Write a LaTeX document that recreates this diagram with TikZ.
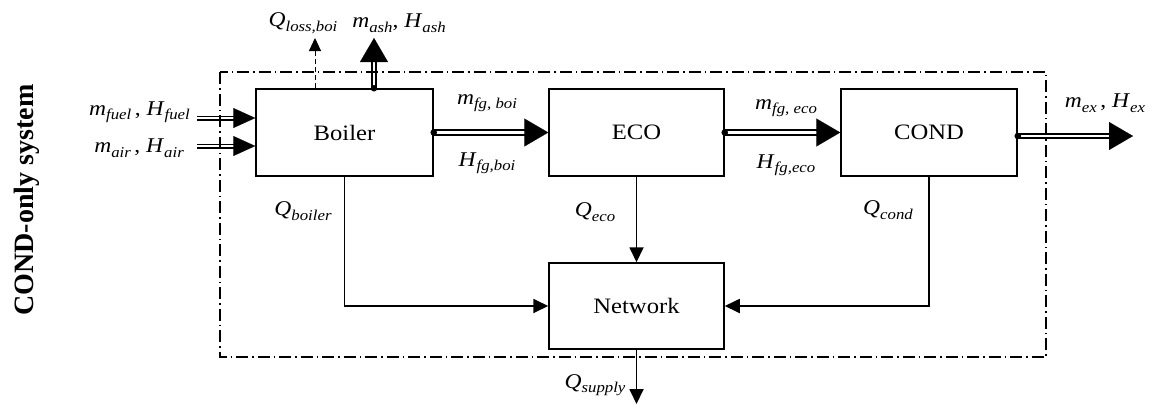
\documentclass[tikz,border=0pt]{standalone}
\usepackage{fontspec}
\setmainfont{Liberation Serif}[FakeStretch=1.12]
\newfontfamily\titlefont{Liberation Serif}
\usetikzlibrary{arrows.meta}

% variable with an italic subscript
\newcommand{\vr}[2]{\textit{#1}\raisebox{-4.5pt}{\fontsize{15}{15}\selectfont\itshape #2}}

\tikzset{
  unit/.style={draw, line width=1.5pt, inner sep=0pt, minimum height=87pt,
               font=\fontsize{22}{26}\selectfont},
  lab/.style={inner sep=0pt, font=\fontsize{21}{25}\selectfont},
  pipe/.style={line width=2.2pt, double=white, double distance=2.4pt},
  thinpipe/.style={line width=1.6pt, double=white, double distance=1.8pt},
  bighead/.style={white, line width=0.1pt, -{Triangle[length=24pt,width=28pt,color=black]}},
  smallhead/.style={white, line width=0.1pt, -{Triangle[length=22pt,width=20pt,color=black]}},
  heat/.style={line width=1.8pt, -{Triangle[length=15pt,width=14pt]}},
  boundary/.style={line width=1.1pt, dash pattern=on 12pt off 4pt on 1.5pt off 4pt},
}

\begin{document}
\begin{tikzpicture}[x=1pt, y=-1pt]
\useasboundingbox (0,0) rectangle (1155,405);

% process units
\node[unit, minimum width=177pt] (boiler)  at (344.5,132.5) {Boiler};
\node[unit, minimum width=175pt] (eco)     at (636.5,132.5) {ECO};
\node[unit, minimum width=176pt] (cond)    at (929,132.5)   {COND};
\node[unit, minimum width=175pt, minimum height=86pt] (network) at (636.5,306) {Network};

% free ends of the streams
\coordinate (fuelin)    at (197,118);
\coordinate (airin)     at (197,146);
\coordinate (lossout)   at (315,38);
\coordinate (ashout)    at (374,38);
\coordinate (exout)     at (1133,136);
\coordinate (supplyout) at (636.5,404);

% fuel and air into the boiler
\draw[thinpipe, shorten >=20pt] (fuelin) -- (boiler.west |- fuelin);
\draw[smallhead] (fuelin) -- (boiler.west |- fuelin);
\draw[thinpipe, shorten >=20pt] (airin) -- (boiler.west |- airin);
\draw[smallhead] (airin) -- (boiler.west |- airin);

% flue gas path
\draw[pipe, shorten >=22pt] (boiler.east) -- (eco.west);
\draw[bighead] (boiler.east) -- (eco.west);
\fill (boiler.east) circle (3.3pt);
\draw[pipe, shorten >=22pt] (eco.east) -- (cond.west);
\draw[bighead] (eco.east) -- (cond.west);
\fill (eco.east) circle (3.3pt);
\draw[pipe, shorten >=22pt] (cond.east |- exout) -- (exout);
\draw[bighead] (cond.east |- exout) -- (exout);
\fill (cond.east |- exout) circle (3.3pt);

% ash and heat loss leaving the boiler
\draw[pipe, shorten >=22pt] (boiler.north -| ashout) -- (ashout);
\draw[bighead] (boiler.north -| ashout) -- (ashout);
\fill (boiler.north -| ashout) circle (3.3pt);
\draw[line width=0.9pt, dash pattern=on 5pt off 3pt, -{Triangle[length=13pt,width=12pt]}]
  (boiler.north -| lossout) -- (lossout);

% heat delivered to the network
\draw[heat] (boiler.south) |- (network.west);
\draw[heat] (eco.south) -- (network.north);
\draw[heat] (cond.south) |- (network.east);
\draw[heat] (network.south) -- (supplyout);

% system boundary
\draw[boundary] (220,72) rectangle (1046,357);

% stream labels
\node[lab, anchor=east] at (190,112) {\vr{m}{fuel}\,, \vr{H}{fuel}};
\node[lab, anchor=east] at (184,148) {\vr{m}{air}\,, \vr{H}{air}};
\node[lab] at (303,23)  {\vr{Q}{loss,boi}};
\node[lab] at (399,23)  {\vr{m}{ash}, \vr{H}{ash}};
\node[lab] at (487,103) {\vr{m}{fg, boi}};
\node[lab] at (487,163) {\vr{H}{fg,boi}};
\node[lab] at (786,108) {\vr{m}{fg, eco}};
\node[lab] at (786,165) {\vr{H}{fg,eco}};
\node[lab] at (1105,103) {\vr{m}{ex}\,, \vr{H}{ex}};
\node[lab] at (303,211) {\vr{Q}{boiler}};
\node[lab] at (595,212) {\vr{Q}{eco}};
\node[lab] at (888,210) {\vr{Q}{cond}};
\node[lab] at (595,385) {\vr{Q}{supply}};

% system name
\node[rotate=90, inner sep=0pt, font=\titlefont\bfseries\fontsize{28}{32}\selectfont]
  (title) at (27,200) {COND-only system};
\end{tikzpicture}
\end{document}
